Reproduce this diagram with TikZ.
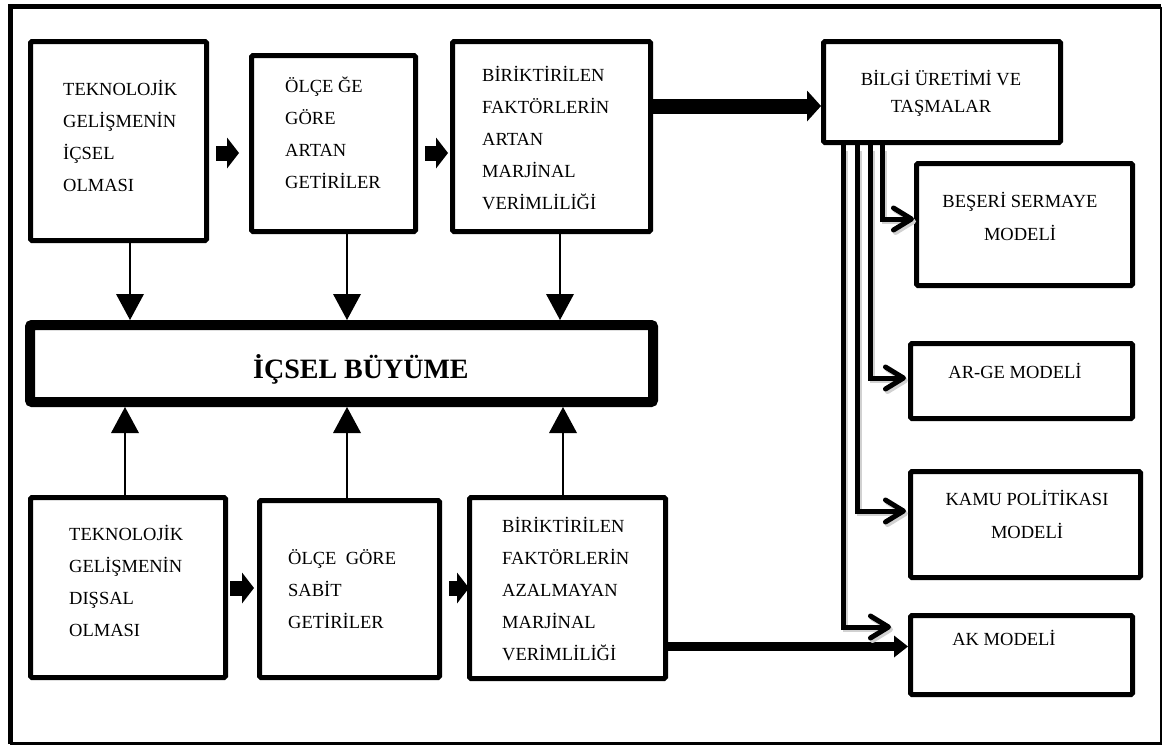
\documentclass[tikz,border=0pt]{standalone}
\usepackage{fontspec}
\setmainfont{Liberation Serif}
\usetikzlibrary{arrows.meta,calc}
\begin{document}
\begin{tikzpicture}[x=1pt,y=-1pt,
  box/.style={draw, line width=5pt, rounded corners=1.5pt, inner sep=0pt, fill=white},
  mainbox/.style={draw, line width=10pt, rounded corners=2pt, inner sep=0pt, fill=white},
  txt/.style={inner sep=0pt, font=\fontsize{18.5pt}{32pt}\selectfont, align=left},
  txtc/.style={inner sep=0pt, align=center},
  blockarrow/.style={line width=15pt, -{Triangle[length=12pt,width=31pt,line width'=0pt]}},
  bigarrow/.style={line width=15pt, -{Triangle[length=14pt,width=31pt,line width'=0pt]}},
  bigarrowb/.style={line width=9.5pt, -{Triangle[length=14pt,width=22pt,line width'=0pt]}},
  thinarrow/.style={line width=2pt, -{Triangle[length=26pt,width=28pt,line width'=0pt]}},
  chev/.style={line width=5pt, -{Straight Barb[length=18pt,width=22pt,round]}},
  chevshadow/.style={chev, draw=black!18}
]
\useasboundingbox (0,0) rectangle (1163,747);
% outer frame
\draw[line width=5pt] (10,744) -- (10,6.5) -- (1161,6.5);
\draw[line width=2.5pt] (1161,6.5) -- (1161,743.5) -- (10,743.5);

% boxes
\node[box, minimum width=176pt, minimum height=199pt] (b1) at (118.5,141) {};
\node[box, minimum width=164pt, minimum height=176pt] (b2) at (333.5,143.5) {};
\node[box, minimum width=198pt, minimum height=190pt] (b3) at (551.5,136.5) {};
\node[box, minimum width=237pt, minimum height=101pt] (b4) at (942,92) {};
\node[box, minimum width=216pt, minimum height=122pt] (m1) at (1024.5,224.5) {};
\node[box, minimum width=222pt, minimum height=75pt] (m2) at (1021.5,381) {};
\node[box, minimum width=230pt, minimum height=106pt] (m3) at (1025.5,524.5) {};
\node[box, minimum width=222pt, minimum height=79pt] (m4) at (1021.5,655) {};
\node[mainbox, minimum width=623pt, minimum height=77pt] (main) at (341.5,363.5) {};
\node[box, minimum width=195pt, minimum height=180pt] (c1) at (128,587.5) {};
\node[box, minimum width=180pt, minimum height=177pt] (c2) at (349.5,589) {};
\node[box, minimum width=196pt, minimum height=181pt] (c3) at (567.5,588) {};

% texts
\node[txt, anchor=north west] (t1) at (63,72.6) {\strut TEKNOLOJİK\\GELİŞMENİN\\İÇSEL\\OLMASI};
\node[txt, anchor=north west] (t2) at (285,69.6) {\strut ÖLÇE ĞE\\GÖRE\\ARTAN\\GETİRİLER};
\node[txt, anchor=north west] (t3) at (482,58.6) {\strut BİRİKTİRİLEN\\FAKTÖRLERİN\\ARTAN\\MARJİNAL\\VERİMLİLİĞİ};
\node[txtc, anchor=north, font=\fontsize{18.5pt}{27pt}\selectfont] (t4) at (941,66.1) {\strut BİLGİ ÜRETİMİ VE\\TAŞMALAR};
\node[txtc, anchor=north, font=\fontsize{18.5pt}{33pt}\selectfont] (tm1) at (1020,183.9) {\strut BEŞERİ SERMAYE\\MODELİ};
\node[txtc, anchor=base, font=\fontsize{18.5pt}{33pt}\selectfont] (tm2) at (1015,378) {AR-GE MODELİ};
\node[txtc, anchor=north, font=\fontsize{18.5pt}{33pt}\selectfont] (tm3) at (1027,481.9) {\strut KAMU POLİTİKASI\\MODELİ};
\node[txtc, anchor=base, font=\fontsize{18.5pt}{33pt}\selectfont] (tm4) at (1004,645) {AK MODELİ};
\node[txt, anchor=north west] (u1) at (69,517.6) {\strut TEKNOLOJİK\\GELİŞMENİN\\DIŞSAL\\OLMASI};
\node[txt, anchor=north west] (u2) at (288,541.6) {\strut ÖLÇE\ \ GÖRE\\SABİT\\GETİRİLER};
\node[txt, anchor=north west] (u3) at (502,509.6) {\strut BİRİKTİRİLEN\\FAKTÖRLERİN\\AZALMAYAN\\MARJİNAL\\VERİMLİLİĞİ};
\node[inner sep=0pt, anchor=base west, font=\fontsize{28pt}{30pt}\selectfont\bfseries] (ml) at (253,378) {İÇSEL BÜYÜME};

% thin arrows to main box
\coordinate (d1) at ($(b1.south)+(11.5,0)$);
\coordinate (d2) at ($(b2.south)+(13.5,0)$);
\coordinate (d3) at ($(b3.south)+(8.5,0)$);
\coordinate (e1) at ($(c1.north)+(-3,0)$);
\coordinate (e2) at ($(c2.north)+(-2.5,0)$);
\coordinate (e3) at ($(c3.north)+(-4.5,0)$);
\draw[thinarrow] (d1) -- (d1 |- main.north);
\draw[thinarrow] (d2) -- (d2 |- main.north);
\draw[thinarrow] (d3) -- (d3 |- main.north);
\draw[thinarrow] (e1) -- (e1 |- main.south);
\draw[thinarrow] (e2) -- (e2 |- main.south);
\draw[thinarrow] (e3) -- (e3 |- main.south);

% block arrows
\draw[blockarrow] ($(b1.east)+(7,12)$) -- ($(b2.west)+(-10,9.5)$);
\draw[blockarrow] ($(b2.east)+(7,9.5)$) -- ($(b3.west)+(-2,16.5)$);
\draw[blockarrow] ($(c1.east)+(2,0.5)$) -- ($(c2.west)+(-3,-1)$);
\draw[blockarrow] ($(c2.east)+(7,-1)$) -- ($(c3.west)+(2,0)$);
\draw[bigarrow] ($(b3.east)+(0,-30.5)$) -- ($(b4.west)+(0,14)$);
\draw[bigarrowb] ($(c3.east)+(0,58.5)$) -- ($(m4.west)+(0,-8.5)$);

% chevron connectors (shadows first)
\begin{scope}[transform canvas={shift={(2pt,-2.5pt)}}]
\draw[chevshadow] ($(b4.south)+(-60,3)$) |- ($(m1.west)+(0,-5.5)$);
\draw[chevshadow] ($(b4.south)+(-72,3)$) |- ($(m2.west)+(-2,-3)$);
\draw[chevshadow] ($(b4.south)+(-85,3)$) |- ($(m3.west)+(-2,-13.5)$);
\draw[chevshadow] ($(b4.south)+(-99,3)$) |- ($(m4.west)+(-17,-28)$);
\end{scope}
\draw[chev] ($(b4.south)+(-60,0)$) |- ($(m1.west)+(0,-5.5)$);
\draw[chev] ($(b4.south)+(-72,0)$) |- ($(m2.west)+(-2,-3)$);
\draw[chev] ($(b4.south)+(-85,0)$) |- ($(m3.west)+(-2,-13.5)$);
\draw[chev] ($(b4.south)+(-99,0)$) |- ($(m4.west)+(-17,-28)$);
\end{tikzpicture}
\end{document}
